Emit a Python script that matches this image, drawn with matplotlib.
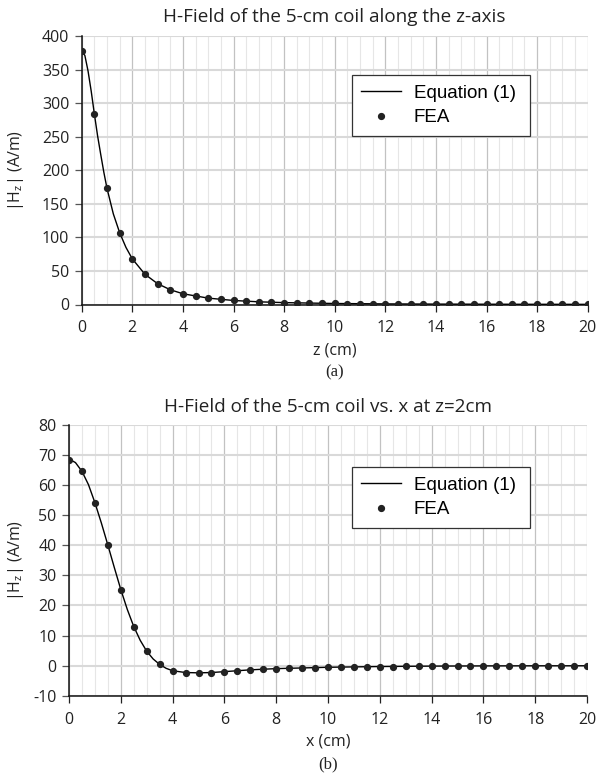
import numpy as np
import matplotlib
matplotlib.use("Agg")
import matplotlib.pyplot as plt
from matplotlib.ticker import MultipleLocator

# ---- data ----
pos = [i * 0.5 for i in range(41)]  # 0 .. 20 cm

hz_axis_fea = [378, 284, 173, 107, 68, 45, 31, 22, 16, 12, 9.5, 7.5, 6.0, 5.0, 4.0, 3.3,
               2.8, 2.4, 2.0, 1.7, 1.5, 1.3, 1.1, 1.0, 0.9, 0.8, 0.7, 0.65, 0.6, 0.55,
               0.5, 0.45, 0.42, 0.39, 0.36, 0.33, 0.31, 0.29, 0.27, 0.25, 0.24]
hz_axis_eq_z = [0, 0.125, 0.25, 0.375, 0.5, 0.625, 0.75, 0.875, 1.0, 1.25, 1.5, 1.75, 2.0,
                2.5, 3, 3.5, 4, 5, 6, 7, 8, 10, 12, 14, 16, 18, 20]
hz_axis_eq = [378, 371, 348, 318, 284, 252, 224, 197, 173, 135, 107, 85, 68, 45, 31, 22, 16,
              9.5, 6.0, 4.0, 2.8, 1.5, 0.9, 0.6, 0.42, 0.31, 0.24]

hz_x_fea = [68.3, 64.6, 54.2, 40.1, 25.3, 13.0, 4.8, 0.4, -1.8, -2.4, -2.4, -2.3, -2.0, -1.8,
            -1.4, -1.2, -1.0, -0.9, -0.75, -0.65, -0.55, -0.5, -0.45, -0.4, -0.35, -0.3,
            -0.28, -0.25, -0.22, -0.2, -0.18, -0.16, -0.14, -0.12, -0.1, -0.09, -0.08,
            -0.07, -0.06, -0.05, -0.05]
hz_x_eq_x = [0, 0.125, 0.25, 0.5, 0.75, 1.0, 1.25, 1.5, 1.75, 2.0, 2.25, 2.5, 2.75, 3.0, 3.25,
             3.5, 3.75, 4.0, 4.5, 5.0, 5.5, 6, 7, 8, 10, 12, 14, 16, 18, 20]
hz_x_eq = [68.3, 68.1, 67.5, 64.6, 60.2, 54.2, 47.4, 40.1, 32.6, 25.3, 18.7, 13.0, 8.4, 4.8,
           2.2, 0.4, -0.9, -1.7, -2.3, -2.4, -2.3, -2.0, -1.4, -1.0, -0.55, -0.3, -0.16,
           -0.09, -0.06, -0.05]

titles = ["H-Field of the 5-cm coil along the z-axis", "H-Field of the 5-cm coil vs. x at z=2cm"]
xlabels = ["z (cm)", "x (cm)"]
ylabel = "|H$_\\mathregular{z}$| (A/m)"
captions = ["(a)", "(b)"]

# ---- figure ----
W, H = 597, 777
plt.rcParams['font.family'] = ['Open Sans', 'DejaVu Sans']
plt.rcParams['mathtext.fontset'] = 'custom'
plt.rcParams['mathtext.rm'] = 'Open Sans'
plt.rcParams['mathtext.it'] = 'Open Sans'
plt.rcParams['axes.unicode_minus'] = False
fig = plt.figure(figsize=(W / 100, H / 100), dpi=100)

def ax_rect(l, t, r, b):
    return [l / W, 1 - b / H, (r - l) / W, (b - t) / H]

def fy(py):
    return 1 - py / H

def fx(px):
    return px / W

rects = [(81.7, 36, 587.7, 304.5), (69, 425, 587, 695.7)]
axA = fig.add_axes(ax_rect(*rects[0]))
axB = fig.add_axes(ax_rect(*rects[1]))

def style(ax, rect, ymin, ymax, ystep, xlabel, title, caption, title_y, xlabel_y, cap_y, ylab_x):
    l, t, r, b = rect
    ax.set_xlim(0, 20)
    ax.set_ylim(ymin, ymax)
    ax.xaxis.set_major_locator(MultipleLocator(2))
    ax.xaxis.set_minor_locator(MultipleLocator(0.5))
    ax.yaxis.set_major_locator(MultipleLocator(ystep))
    ax.grid(which='minor', axis='x', color='#e6e6e6', lw=0.8)
    ax.grid(which='major', axis='x', color='#c2c2c2', lw=0.9)
    ax.grid(which='major', axis='y', color='#d9d9d9', lw=1.5)
    ax.set_axisbelow(True)
    for s in ['top', 'right']:
        ax.spines[s].set_visible(False)
    for s in ['left', 'bottom']:
        ax.spines[s].set_color('#111111')
        ax.spines[s].set_linewidth(1.1)
    ax.tick_params(which='major', axis='both', direction='out', length=5, width=0.9,
                   labelsize=11.5, colors='#222222', pad=4)
    ax.tick_params(which='major', axis='y', colors='#555555', labelcolor='#222222')
    ax.tick_params(which='minor', axis='x', length=0)
    ax.tick_params(axis='x', pad=6.5)
    cx = 0.5 * (l + r)
    fig.text(fx(cx), fy(title_y), title, ha='center', va='center', fontsize=13.6, color='#222222')
    fig.text(fx(cx), fy(xlabel_y), xlabel, ha='center', va='center', fontsize=11.5, color='#222222')
    fig.text(fx(cx), fy(cap_y), caption, ha='center', va='center', fontsize=12,
             family='Liberation Serif', color='#222222')
    fig.text(fx(ylab_x), fy(0.5 * (t + b)), ylabel, ha='center', va='center', rotation=90,
             fontsize=11.5, color='#222222')

def draw(ax, rect, eqx, eqy, px, py, leg_l, leg_t, leg_r):
    l, t, r, b = rect
    ax.plot(eqx, eqy, color='black', lw=1.0, label='Equation (1)', zorder=3)
    ax.plot(px, py, 'o', color='#222222', ms=4.2, label='FEA', zorder=4, ls='none')
    bx = ((leg_l - l) / (r - l), (b - leg_t) / (b - t), (leg_r - leg_l) / (r - l), 0)
    leg = ax.legend(loc='upper left', bbox_to_anchor=bx, mode='expand',
                    prop={'family': 'Liberation Sans', 'size': 13.5}, frameon=True,
                    fancybox=False, edgecolor='#333333', handlelength=2.1,
                    handletextpad=0.7, borderpad=0.5, labelspacing=0.4, borderaxespad=0,
                    framealpha=1)
    leg.get_frame().set_linewidth(0.9)

draw(axA, rects[0], hz_axis_eq_z, hz_axis_eq, pos, hz_axis_fea, 352, 75, 530)
style(axA, rects[0], 0, 400, 50, xlabels[0], titles[0], captions[0], 17, 350, 372, 16)

draw(axB, rects[1], hz_x_eq_x, hz_x_eq, pos, hz_x_fea, 352, 467, 530)
style(axB, rects[1], -10, 80, 10, xlabels[1], titles[1], captions[1], 407, 742, 764, 16)

fig.savefig('out.png', dpi=100, facecolor='white')
